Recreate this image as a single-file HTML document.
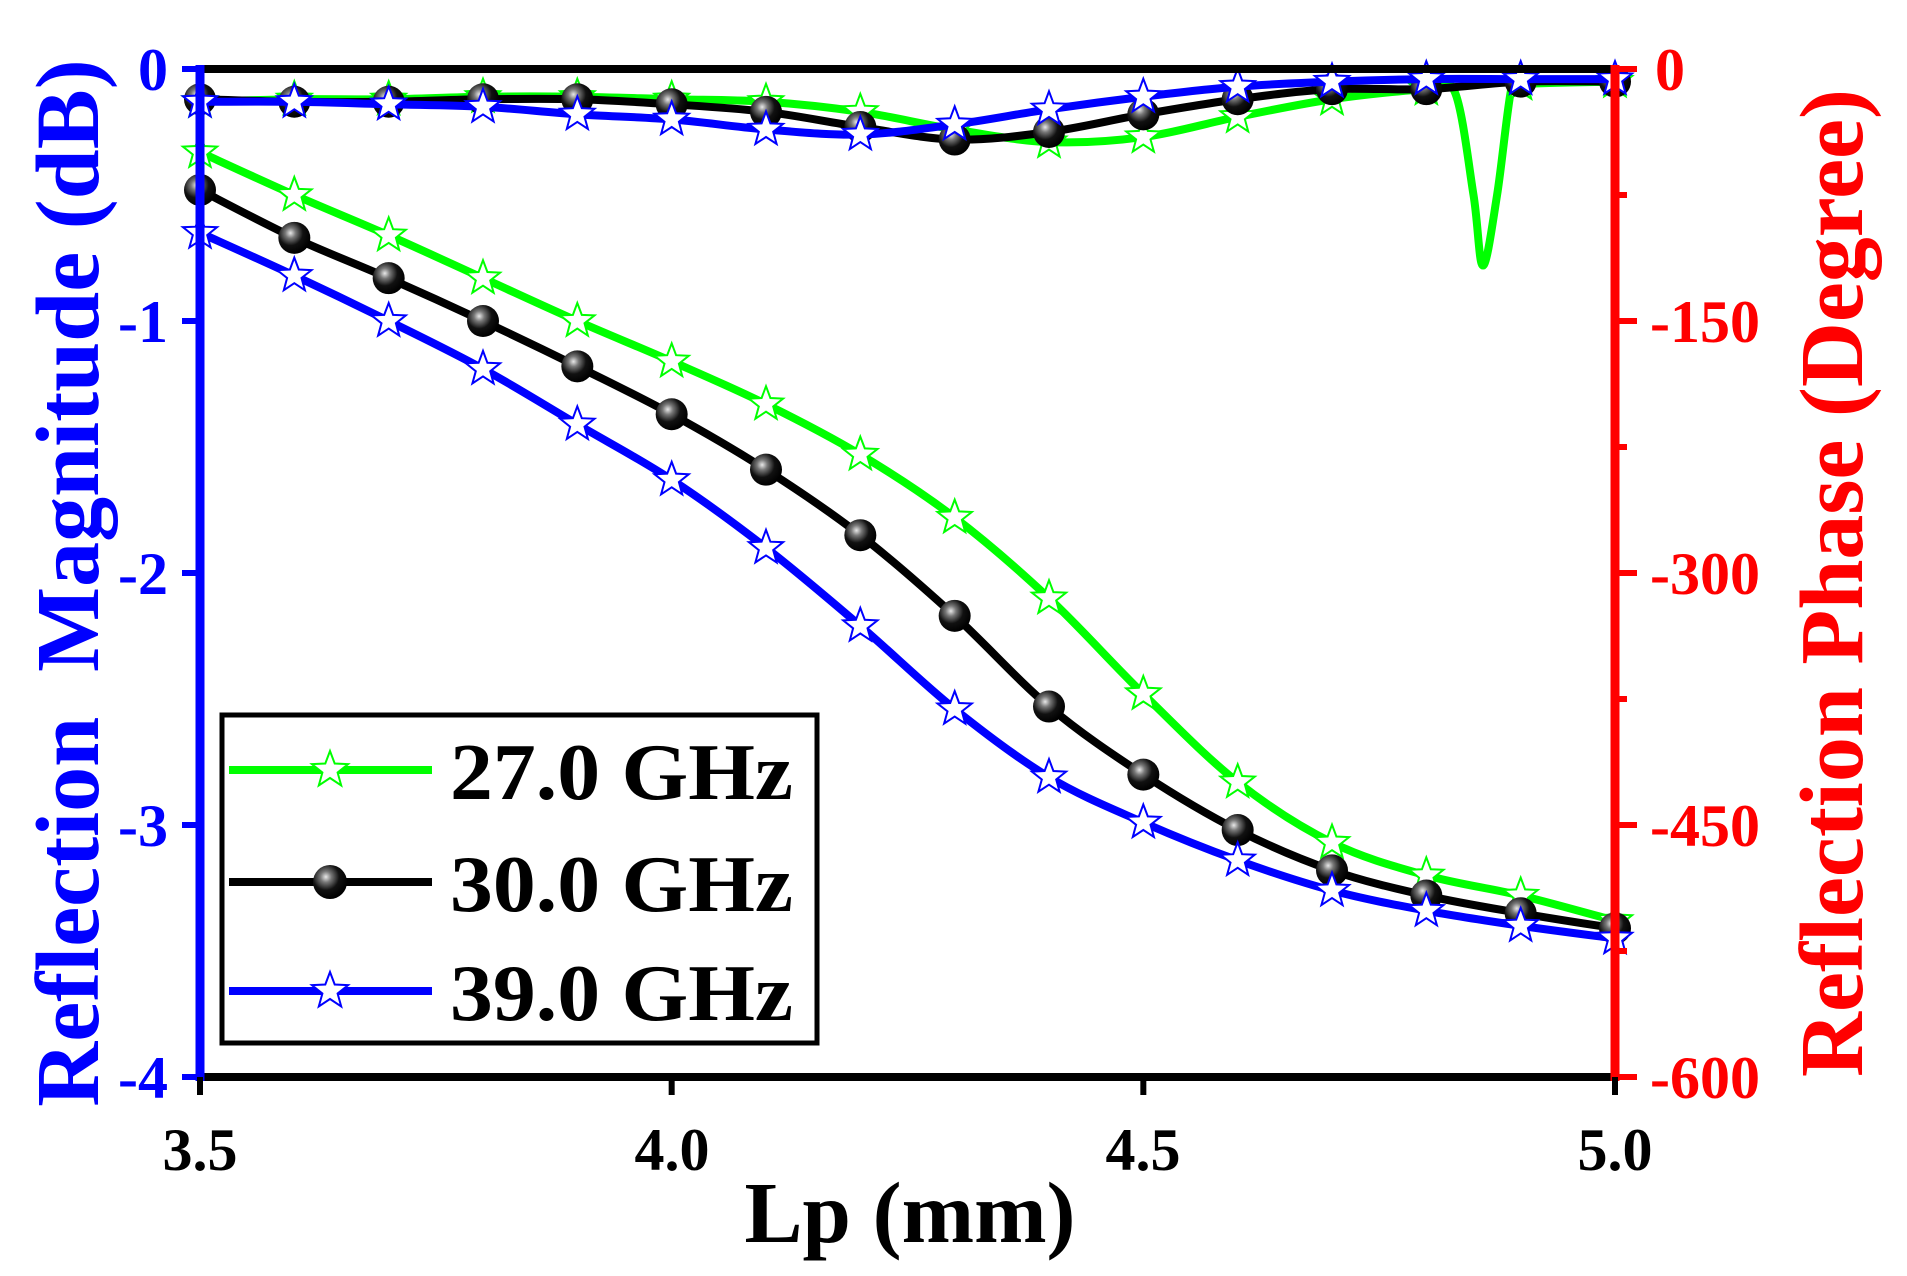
<!DOCTYPE html>
<html><head><meta charset="utf-8"><style>
html,body{margin:0;padding:0;background:#fff;}
svg{display:block;}
text{font-family:"Liberation Serif",serif;font-weight:bold;}
</style></head><body>
<svg id="s" width="1907" height="1276" viewBox="0 0 1907 1276" xmlns="http://www.w3.org/2000/svg">
<defs>
<radialGradient id="ball" cx="0.38" cy="0.35" r="0.65">
<stop offset="0" stop-color="#e8e8e8"/><stop offset="0.25" stop-color="#777"/><stop offset="0.6" stop-color="#111"/><stop offset="1" stop-color="#000"/>
</radialGradient>
</defs>
<g id="plot"></g>
<line x1="200" y1="69" x2="1615" y2="69" stroke="#000" stroke-width="8"/>
<line x1="200" y1="1077" x2="1615" y2="1077" stroke="#000" stroke-width="8"/>
<line x1="200" y1="65" x2="200" y2="1081" stroke="#0000ff" stroke-width="9"/>
<line x1="1615" y1="65" x2="1615" y2="1081" stroke="#ff0000" stroke-width="9"/>
<g id="ticks"></g>
<g font-size="60" fill="#0000ff" text-anchor="end">
<text x="168" y="90">0</text><text x="168" y="342">-1</text><text x="168" y="594">-2</text><text x="168" y="846">-3</text><text x="168" y="1098">-4</text>
</g>
<g font-size="60" fill="#ff0000" text-anchor="start">
<text x="1655" y="90">0</text><text x="1650" y="342">-150</text><text x="1650" y="594">-300</text><text x="1650" y="846">-450</text><text x="1650" y="1098">-600</text>
</g>
<g font-size="60" fill="#000" text-anchor="middle">
<text x="200" y="1170">3.5</text><text x="672" y="1170">4.0</text><text x="1143" y="1170">4.5</text><text x="1615" y="1170">5.0</text>
</g>
<text x="910" y="1242" font-size="87" text-anchor="middle" fill="#000">Lp (mm)</text>
<text transform="translate(98,583) rotate(-90)" font-size="90" text-anchor="middle" fill="#0000ff" xml:space="preserve">Reflection  Magnitude (dB)</text>
<text transform="translate(1862,583) rotate(-90)" font-size="90" text-anchor="middle" fill="#ff0000">Reflection Phase (Degree)</text>
<rect x="222" y="715" width="595" height="328" fill="#fff" stroke="#000" stroke-width="5"/>
<g id="leg"></g>
<g font-size="80" fill="#000">
<text x="450" y="799" textLength="343" lengthAdjust="spacingAndGlyphs">27.0 GHz</text>
<text x="450" y="911" textLength="343" lengthAdjust="spacingAndGlyphs">30.0 GHz</text>
<text x="450" y="1020" textLength="343" lengthAdjust="spacingAndGlyphs">39.0 GHz</text>
</g>
</svg>
<script>
const NS="http://www.w3.org/2000/svg";
const px=x=>200+(x-3.5)/1.5*1415, py=v=>69+252*(-v);
const xs=[3.5,3.6,3.7,3.8,3.9,4.0,4.1,4.2,4.3,4.4,4.5,4.6,4.7,4.8,4.9,5.0];
const G1=[-0.33,-0.5,-0.66,-0.83,-1.0,-1.16,-1.33,-1.53,-1.78,-2.1,-2.48,-2.83,-3.07,-3.2,-3.28,-3.38];
const K1=[-0.48,-0.67,-0.83,-1.0,-1.18,-1.37,-1.59,-1.85,-2.17,-2.53,-2.8,-3.02,-3.18,-3.28,-3.35,-3.41];
const B1=[-0.65,-0.82,-1.0,-1.19,-1.41,-1.63,-1.9,-2.21,-2.54,-2.81,-2.99,-3.14,-3.26,-3.34,-3.4,-3.45];
const G2=[-0.13,-0.12,-0.12,-0.11,-0.11,-0.12,-0.13,-0.17,-0.24,-0.29,-0.27,-0.19,-0.12,-0.08,-0.06,-0.05];
const K2=[-0.12,-0.13,-0.13,-0.12,-0.12,-0.14,-0.17,-0.23,-0.28,-0.25,-0.18,-0.12,-0.08,-0.08,-0.05,-0.05];
const B2=[-0.13,-0.13,-0.14,-0.15,-0.18,-0.2,-0.24,-0.26,-0.22,-0.16,-0.11,-0.07,-0.05,-0.04,-0.04,-0.04];
function path(pts){let d="M"+pts[0][0]+","+pts[0][1];for(let i=0;i<pts.length-1;i++){const p0=pts[Math.max(0,i-1)],p1=pts[i],p2=pts[i+1],p3=pts[Math.min(pts.length-1,i+2)];
d+=" C"+(p1[0]+(p2[0]-p0[0])/6)+","+(p1[1]+(p2[1]-p0[1])/6)+" "+(p2[0]-(p3[0]-p1[0])/6)+","+(p2[1]-(p3[1]-p1[1])/6)+" "+p2[0]+","+p2[1];}return d;}
const plot=document.getElementById("plot");
function el(tag,a,par){const e=document.createElementNS(NS,tag);for(const k in a)e.setAttribute(k,a[k]);(par||plot).appendChild(e);return e;}
function star(cx,cy,r,col,par){let p=[];for(let i=0;i<10;i++){const a=-Math.PI/2+i*Math.PI/5,rr=i%2?r*0.42:r;p.push((cx+rr*Math.cos(a)).toFixed(1)+","+(cy+rr*Math.sin(a)).toFixed(1));}
el("polygon",{points:p.join(" "),fill:"#fff",stroke:col,"stroke-width":2},par);}
function ball(cx,cy,r,par){el("circle",{cx:cx,cy:cy,r:r,fill:"url(#ball)"},par);}
function series(ys,col,mk,extra){let pts=xs.map((x,i)=>[px(x),py(ys[i])]);
if(extra){pts=[];xs.forEach((x,i)=>{pts.push([px(x),py(ys[i])]);if(Math.abs(x-4.8)<1e-6){pts.push([px(4.83),py(-0.09)]);pts.push([px(4.85),py(-0.5)]);pts.push([px(4.86),py(-0.78)]);pts.push([px(4.875),py(-0.5)]);pts.push([px(4.89),py(-0.08)]);}});}
el("path",{d:path(pts),fill:"none",stroke:col,"stroke-width":8,"stroke-linejoin":"round"});
xs.forEach((x,i)=>{if(mk==="s")star(px(x),py(ys[i]),18,col);else ball(px(x),py(ys[i]),16);});}
series(G2,"#00ff00","s",true);series(K2,"#000","b");series(B2,"#0000ff","s");
series(G1,"#00ff00","s");series(K1,"#000","b");series(B1,"#0000ff","s");
const t=document.getElementById("ticks");
for(let k=0;k<=8;k++){const y=69+126*k;if(k%2==0)el("line",{x1:200,y1:y,x2:182,y2:y,stroke:"#0000ff","stroke-width":6},t);el("line",{x1:1615,y1:y,x2:k%2?1627:1637,y2:y,stroke:"#ff0000","stroke-width":6},t);}
for(let k=0;k<=3;k++){const x=200+k*1415/3;el("line",{x1:x,y1:1077,x2:x,y2:1095,stroke:"#000","stroke-width":6},t);}
const lg=document.getElementById("leg");
[[770,"#00ff00","s"],[882,"#000","b"],[991,"#0000ff","s"]].forEach(([y,c,m])=>{el("line",{x1:229,y1:y,x2:432,y2:y,stroke:c,"stroke-width":8},lg);if(m==="s")star(330,y,19,c,lg);else ball(330,y,17,lg);});
</script>
</body></html>
